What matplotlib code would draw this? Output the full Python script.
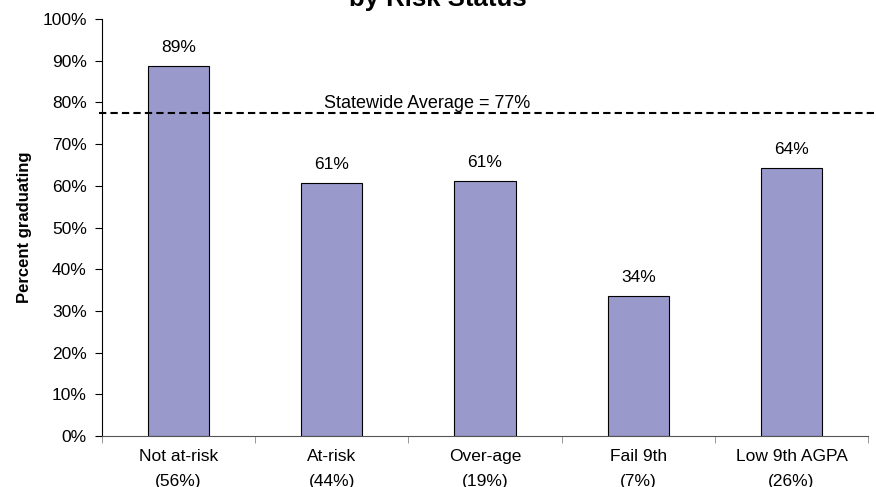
import matplotlib.pyplot as plt
import numpy as np

plt.rcParams['font.family'] = ['Liberation Sans', 'DejaVu Sans']

categories = ['Not at-risk\n(56%)', 'At-risk\n(44%)', 'Over-age\n(19%)', 'Fail 9th\n(7%)', 'Low 9th AGPA\n(26%)']
values = [88.8, 60.7, 61.2, 33.6, 64.3]
labels = ['89%', '61%', '61%', '34%', '64%']
state_avg = 77.4

fig = plt.figure(figsize=(8.76, 4.87), dpi=100)
ax = fig.add_axes([0.1164, 0.1047, 0.8746, 0.8563])

x = np.arange(len(values))
ax.bar(x, values, width=0.4, color='#9999cc', edgecolor='black', linewidth=0.8, zorder=2)
for xi, v, lab in zip(x, values, labels):
    ax.text(xi, v + 2.6, lab, ha='center', va='bottom', fontsize=12.5)

# statewide average line
ax.plot([-0.52, 4.56], [state_avg, state_avg], ls='--', color='black', lw=1.5,
        dashes=(3.5, 2), clip_on=False, zorder=3)
ax.text(0.95, state_avg + 1.2, 'Statewide Average = 77%', ha='left', va='baseline', fontsize=13)

ax.set_xlim(-0.5, len(values) - 0.5)
ax.set_ylim(0, 100)
ax.set_yticks(np.arange(0, 101, 10))
ax.set_yticklabels([f'{t}%' for t in range(0, 101, 10)], fontsize=12.5)
ax.set_xticks(x)
ax.set_xticklabels(categories, fontsize=12.5, linespacing=1.85)
ax.tick_params(axis='x', length=0, pad=9)
ax.set_xticks(np.arange(-0.5, len(values)), minor=True)
ax.tick_params(axis='x', which='minor', length=5, direction='out', color='#888888')
ax.tick_params(axis='y', length=5, direction='out', pad=6)
ax.spines['top'].set_visible(False)
ax.spines['right'].set_visible(False)
ax.spines['bottom'].set_color('#555555')
ax.set_ylabel('Percent graduating', fontsize=12, fontweight='bold', labelpad=7)

# title is partly cut at the top edge, as in the original
fig.text(0.5, 0.9877, 'by Risk Status', ha='center', va='baseline', fontsize=18.5, fontweight='bold')

fig.savefig('out.png', dpi=100)
